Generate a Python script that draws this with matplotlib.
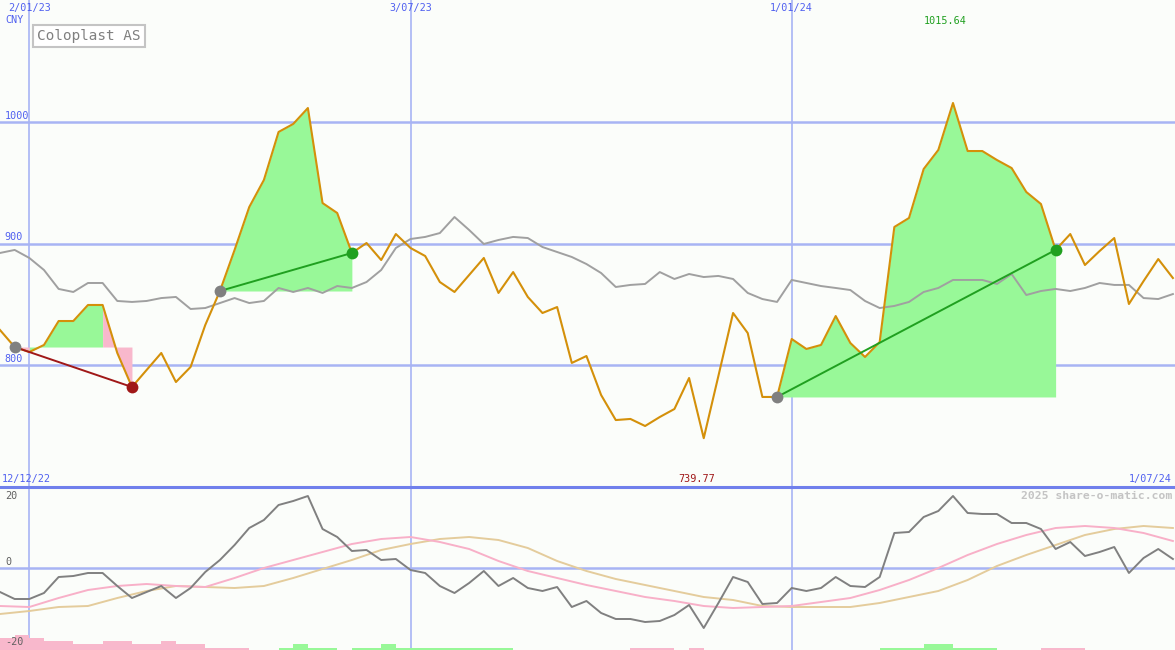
import matplotlib
matplotlib.use('Agg')
import matplotlib.pyplot as plt
import matplotlib.dates as mdates
from matplotlib.lines import Line2D
import pandas as pd

# weekly closes, Coloplast AS (CNY)
dates = pd.date_range('2022-12-19', periods=81, freq='7D')
price = [828.8, 814.8, 810.7, 816.5, 836.2, 836.2, 849.4, 849.4, 809.9, 781.9,
         795.9, 809.9, 786.0, 798.4, 832.9, 860.9, 894.7, 930.0, 952.3, 991.8,
         998.4, 1011.5, 933.3, 925.1, 892.2, 900.4, 886.4, 907.8, 896.3, 889.7,
         868.3, 860.1, 874.1, 888.1, 859.3, 876.5, 856.0, 842.8, 847.7, 801.7,
         807.4, 775.3, 754.7, 755.6, 749.8, 757.2, 763.8, 789.3, 739.77, 791.0,
         842.8, 826.3, 773.7, 773.7, 821.4, 813.2, 816.5, 840.3, 818.1, 806.6,
         818.9, 913.6, 921.0, 961.3, 977.0, 1015.64, 976.1, 976.1, 968.7, 962.1,
         942.4, 932.5, 894.7, 907.8, 882.3, 893.8, 904.5, 850.2, 869.1, 887.2,
         871.6]
price_ma = [892.2, 894.7, 888.1, 878.2, 862.6, 860.1, 867.5, 867.5, 852.7, 851.9,
            852.7, 855.1, 856.0, 846.1, 846.9, 851.0, 855.1, 851.0, 852.7, 863.4,
            860.1, 863.4, 859.3, 865.0, 863.4, 868.3, 878.2, 896.3, 903.7, 905.4,
            908.6, 921.8, 911.1, 899.6, 902.9, 905.4, 904.5, 897.1, 893.0, 888.9,
            883.1, 875.7, 864.2, 865.9, 866.7, 876.5, 870.8, 874.9, 872.4, 873.3,
            870.8, 859.3, 854.3, 851.9, 870.0, 867.5, 865.0, 863.4, 861.7, 852.7,
            846.9, 848.6, 851.9, 860.1, 863.4, 870.0, 870.0, 870.0, 866.7, 874.9,
            857.6, 860.9, 862.6, 860.9, 863.4, 867.5, 865.9, 865.9, 855.1, 854.3,
            858.4]

# momentum panel
mom = [-6, -7.75, -7.75, -6.25, -2.25, -2, -1.25, -1.25, -4.5, -7.5,
       -6, -4.5, -7.5, -5, -1, 2, 5.75, 10, 12, 15.75,
       16.75, 18, 9.75, 7.75, 4.25, 4.5, 2, 2.25, -0.5, -1.25,
       -4.5, -6.25, -3.75, -0.75, -4.5, -2.5, -5, -5.75, -4.75, -9.75,
       -8.25, -11.25, -12.75, -12.75, -13.5, -13.25, -11.75, -9.25, -15, -8.75,
       -2.25, -3.5, -9, -8.75, -5, -5.75, -5, -2.25, -4.5, -4.75,
       -2.25, 8.75, 9, 12.75, 14.25, 18, 13.75, 13.5, 13.5, 11.25,
       11.25, 9.75, 4.75, 6.5, 3, 4, 5.25, -1.25, 2.5, 4.75,
       2.25]
# smoothed lines, read every second week
mom_fast = [-9.5, -9.75, -7.5, -5.5, -4.5, -4, -4.5, -4.75, -2.5, 0,
            2, 4, 6, 7.25, 7.75, 6.5, 4.75, 1.75, -0.75, -2.5,
            -4.25, -5.75, -7.25, -8.25, -9.5, -10, -9.75, -9.5, -8.5, -7.5,
            -5.5, -3, 0, 3.25, 6, 8.25, 10, 10.5, 10, 8.75,
            6.75]
mom_slow = [-11.5, -10.75, -9.75, -9.5, -7.5, -5.75, -4.5, -4.75, -5, -4.5,
            -2.5, -0.25, 2, 4.5, 6, 7.25, 7.75, 7, 5, 1.75,
            -0.75, -2.75, -4.25, -5.75, -7.25, -8, -9.5, -9.75, -9.75, -9.75,
            -8.75, -7.25, -5.75, -3, 0.5, 3.25, 5.75, 8.25, 9.75, 10.5,
            10]
hist = [-3, -3.75, -3, -2.25, -2.25, -1.5, -1.5, -2.25, -2.25, -1.5,
        -1.5, -2.25, -1.5, -1.5, -0.6, -0.6, -0.6, 0, 0, 0.6,
        1.5, 0.6, 0.6, 0, 0.6, 0.6, 1.5, 0.6, 0.6, 0.6,
        0.6, 0.6, 0.6, 0.6, 0.6, 0, 0, 0, 0, 0,
        0, 0, 0, -0.6, -0.6, -0.6, 0, -0.6, 0, 0,
        0, 0, 0, 0, 0, 0, 0, 0, 0, 0,
        0.6, 0.6, 0.6, 1.5, 1.5, 0.6, 0.6, 0.6, 0, 0,
        0, -0.6, -0.6, -0.6, 0, 0, 0, 0, 0, 0,
        0]

trades = [(1, 9), (15, 24), (53, 72)]
grid_dates = ['2023-01-02', '2023-07-03', '2024-01-01']
grid_labels = ['2/01/23', '3/07/23', '1/01/24']
price_ticks = [800, 900, 1000]
mom_ticks = [20, 0, -20]

BG = '#fbfdfa'
GRID = '#a8b4f4'
BLUE = '#5060f0'
GREEN = '#20a020'
RED = '#a01818'
FILL_G = '#98f898'
FILL_R = '#f8b8cc'
MONO = 'DejaVu Sans Mono'
FS = 7.3

xd = mdates.date2num(dates)
gd = mdates.date2num(pd.to_datetime(grid_dates))

W, H = 1175, 650
fig = plt.figure(figsize=(W / 100, H / 100), dpi=100, facecolor=BG)
ax = fig.add_axes([0, 163 / H, 1, 487 / H])
ax2 = fig.add_axes([0, 0, 1, 163 / H])
for a in (ax, ax2):
    a.set_facecolor(BG)
    a.set_xlim(xd[0], xd[0] + 561)
    a.set_xticks([])
    a.set_yticks([])
    for s in a.spines.values():
        s.set_visible(False)
    for g in gd:
        a.axvline(g, color=GRID, lw=1.2, zorder=1)

ax.set_ylim(699.6, 1100.4)
ax2.set_ylim(-20.5, 20.25)

# ---- price panel
for t in price_ticks:
    ax.axhline(t, color=GRID, lw=1.8, zorder=1)
    ax.text(0.004, t + 5, str(t), transform=ax.get_yaxis_transform(),
            fontsize=FS, family=MONO, color=BLUE, va='center', ha='left')

for i0, i1 in trades:
    base = price[i0]
    runs = []
    for k in range(i0, i1):
        c = FILL_G if price[k + 1] >= base else FILL_R
        if runs and runs[-1][2] == c:
            runs[-1][1] = k + 1
        else:
            runs.append([k, k + 1, c])
    for s, e, c in runs:
        ax.fill_between(xd[s:e + 1], price[s:e + 1], base, color=c, lw=0, zorder=2)

ax.plot(xd, price_ma, color='#a0a0a0', lw=1.4, zorder=3)
ax.plot(xd, price, color='#d4900a', lw=1.5, zorder=4)

for i0, i1 in trades:
    col = GREEN if price[i1] > price[i0] else RED
    ax.plot([xd[i0], xd[i1]], [price[i0], price[i1]], color=col, lw=1.4, zorder=5)
    ax.plot(xd[i0], price[i0], 'o', color='#808080', ms=8.5, mec='none', zorder=6)
    ax.plot(xd[i1], price[i1], 'o', color=col, ms=8.5, mec='none', zorder=6)

imax = price.index(max(price))
imin = price.index(min(price))
ax.annotate(f'{price[imax]:.2f}', xy=(xd[imax], 1 - 21 / 487), xycoords=ax.get_xaxis_transform(),
            xytext=(-8, 0), textcoords='offset pixels', ha='center', va='center',
            fontsize=FS, family=MONO, color=GREEN)
ax.annotate(f'{price[imin]:.2f}', xy=(xd[imin], 8 / 487), xycoords=ax.get_xaxis_transform(),
            xytext=(-7, 0), textcoords='offset pixels', ha='center', va='center',
            fontsize=FS, family=MONO, color=RED)

for g, lab in zip(gd, grid_labels):
    ax.text(g, 1 - 8 / 487, lab, transform=ax.get_xaxis_transform(),
            fontsize=FS, family=MONO, color=BLUE, ha='center', va='center')
ax.text(5 / W, 1 - 20 / 487, 'CNY', transform=ax.transAxes, fontsize=FS, family=MONO,
        color=BLUE, ha='left', va='center')
ax.text(37 / W, 1 - 36 / 487, 'Coloplast AS', transform=ax.transAxes, fontsize=10.4,
        family=MONO, color='#808080', ha='left', va='center',
        bbox=dict(boxstyle='square,pad=0.3', fc='white', ec='#c4c4c4', lw=1.5))
ax.text(2 / W, 8 / 487, '12/12/22', transform=ax.transAxes, fontsize=FS, family=MONO,
        color=BLUE, ha='left', va='center')
ax.text(1172 / W, 8 / 487, '1/07/24', transform=ax.transAxes, fontsize=FS, family=MONO,
        color=BLUE, ha='right', va='center')

# ---- momentum panel
ax2.axhline(0, color=GRID, lw=1.8, zorder=1)
for t in mom_ticks:
    ax2.text(5 / W, min(t + 1.5, 18), str(t), transform=ax2.get_yaxis_transform(), fontsize=FS,
             family=MONO, color='#606060', ha='left', va='center', zorder=8)

bar_cols = [FILL_G if v > 0 else FILL_R for v in hist]
ax2.bar(xd, [abs(v) for v in hist], width=7, bottom=-20.5, align='edge',
        color=bar_cols, lw=0, zorder=2)
ax2.plot(xd[::2], mom_slow, color='#e4cc9c', lw=1.4, zorder=3)
ax2.plot(xd[::2], mom_fast, color='#f8b0c8', lw=1.4, zorder=3)
ax2.plot(xd, mom, color='#808080', lw=1.4, zorder=4)
ax2.text(1172 / W, 1 - 9 / 163, '2025 share-o-matic.com', transform=ax2.transAxes,
         fontsize=8.2, family=MONO, weight='bold', color='#c4c4c4', ha='right', va='center')

fig.add_artist(Line2D([0, 1], [163 / H, 163 / H], transform=fig.transFigure,
                      color='#7080ec', lw=2.2, zorder=10))

fig.savefig('out.png', dpi=100, facecolor=BG)
